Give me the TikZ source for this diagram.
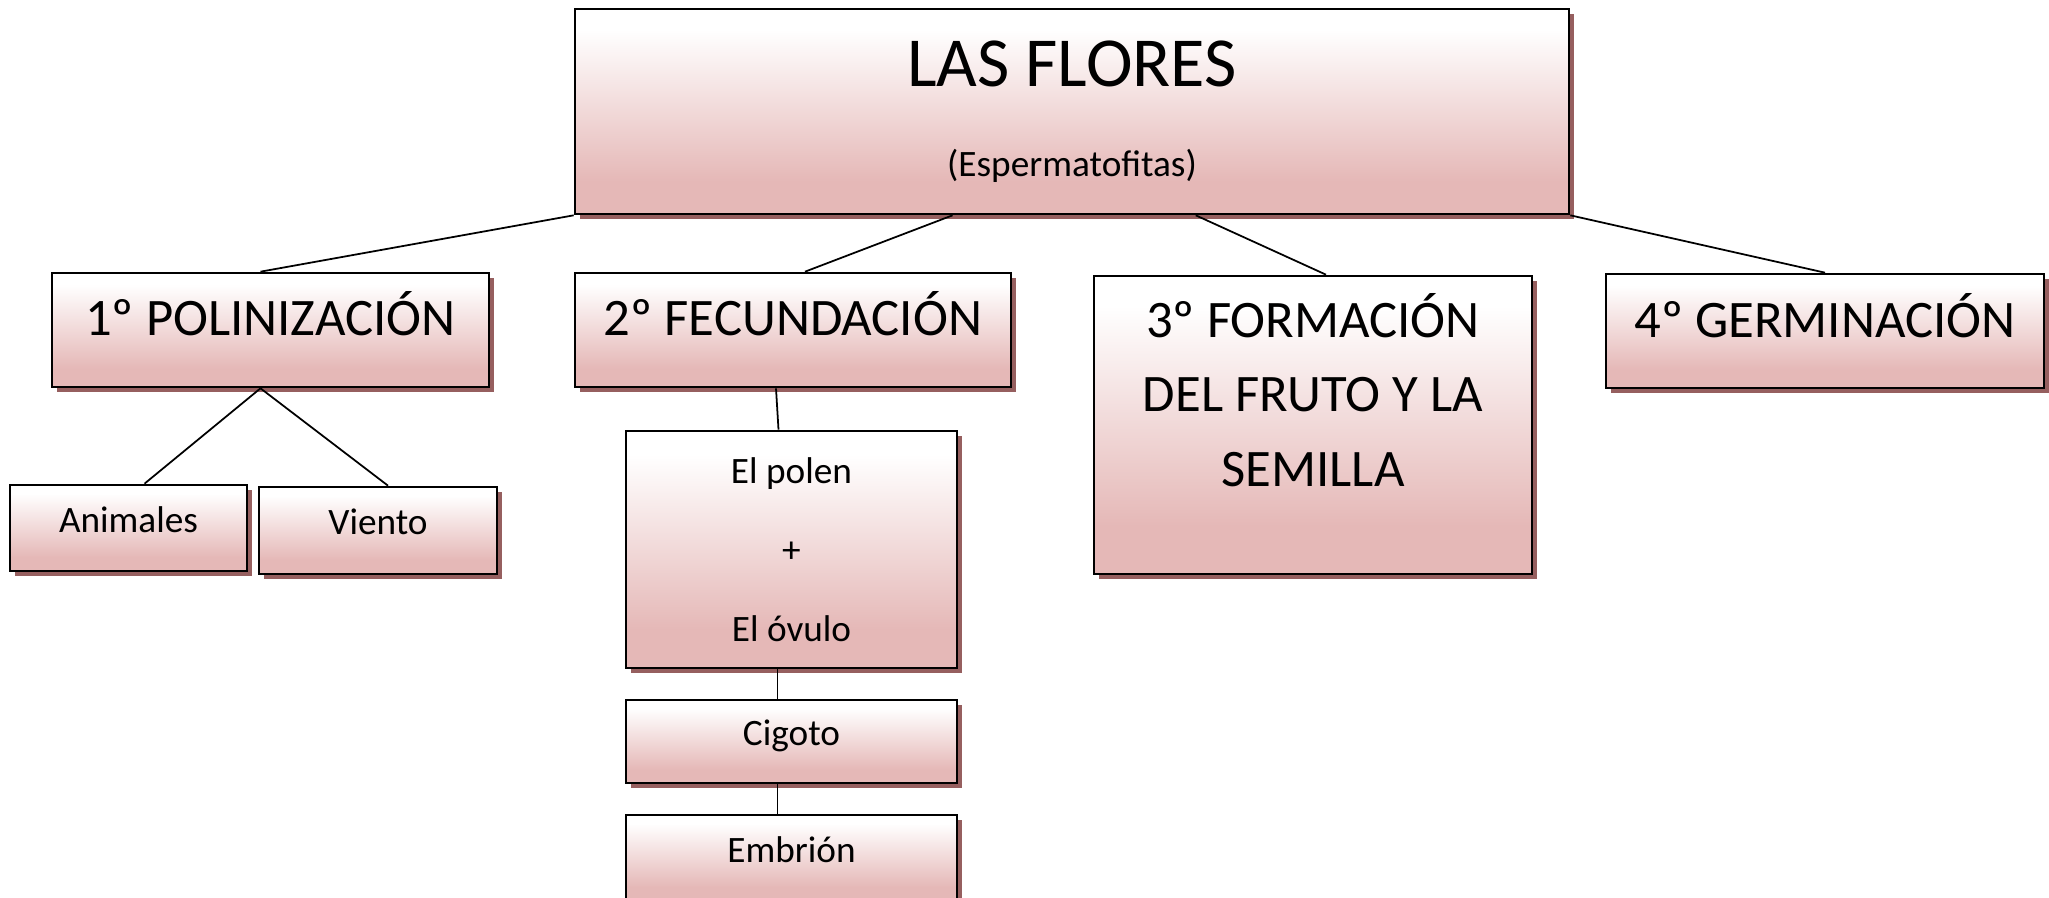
\documentclass[tikz,border=0pt]{standalone}
\usepackage{fontspec}
\setmainfont{Carlito}
\usetikzlibrary{shadows}

\definecolor{petalpink}{RGB}{229,184,183}
\definecolor{shadowred}{RGB}{150,95,95}
\pgfdeclareverticalshading{petal}{100bp}{color(0bp)=(petalpink); color(33bp)=(petalpink);
  color(70bp)=(white); color(100bp)=(white)}

\begin{document}
\begin{tikzpicture}[
  box/.style={rectangle, draw=black, line width=0.75pt, shade, shading=petal, inner sep=0pt,
              align=center, drop shadow={shadow xshift=1.5pt, shadow yshift=-1.5pt, fill=shadowred, opacity=1}},
  big/.style={box, font=\fontsize{15}{21.2}\selectfont},
  small/.style={box, font=\fontsize{10.6}{12.7}\selectfont},
  bigline/.style={big, text height=0.5cm, text depth=0.38cm},
  smallline/.style={small, text height=0.35cm, text depth=0.27cm},
  link/.style={line width=0.5pt}
]
\useasboundingbox (0,0) rectangle (20.49,-8.98);

% Title
\node[box, minimum width=9.94cm, minimum height=2.05cm, font=\fontsize{10.6}{12.7}\selectfont] (flores) at (10.72,-1.115) {
  {\fontsize{20}{24}\selectfont LAS FLORES}\\[12.9pt]
  (Espermatofitas)
};

% Stages
\node[bigline, minimum width=4.37cm, minimum height=1.14cm] (pol) at (2.705,-3.30) {1º POLINIZACIÓN};
\node[bigline, minimum width=4.36cm, minimum height=1.14cm] (fec) at (7.93,-3.30) {2º FECUNDACIÓN};
\node[big, minimum width=4.38cm, minimum height=2.98cm, text height=1.94cm, text depth=0.71cm] (fru) at (13.13,-4.25) {
  3º FORMACIÓN\\DEL FRUTO Y LA\\SEMILLA
};
\node[bigline, minimum width=4.38cm, minimum height=1.14cm] (ger) at (18.25,-3.31) {4º GERMINACIÓN};

% Polinizacion
\node[smallline, minimum width=2.37cm, minimum height=0.86cm] (ani) at (1.285,-5.28) {Animales};
\node[smallline, minimum width=2.38cm, minimum height=0.87cm] (vie) at (3.78,-5.305) {Viento};

% Fecundacion
\node[small, font=\fontsize{10.6}{22.5}\selectfont, minimum width=3.31cm, minimum height=2.37cm] (fus) at (7.915,-5.495) {
  El polen\\+\\El óvulo
};
\node[smallline, minimum width=3.31cm, minimum height=0.83cm] (cig) at (7.915,-7.415) {Cigoto};
\node[smallline, minimum width=3.31cm, minimum height=0.86cm] (emb) at (7.915,-8.58) {Embrión};

% Links
\draw[link] (flores.south west) -- ([xshift=-0.1cm]pol.north);
\draw[link] (flores.221) -- ([xshift=0.12cm]fec.north);
\draw[link] (flores.320) -- ([xshift=0.13cm]fru.north);
\draw[link] (flores.south east) -- (ger.north);
\draw[link] ([xshift=-0.1cm]pol.south) -- ([xshift=0.16cm]ani.north);
\draw[link] ([xshift=-0.1cm]pol.south) -- ([xshift=0.1cm]vie.north);
\draw[link] ([xshift=-0.17cm]fec.south) -- ([xshift=-0.13cm]fus.north);
\draw[link] ([xshift=-0.14cm]fus.south) -- ([xshift=-0.14cm]cig.north);
\draw[link] ([xshift=-0.14cm]cig.south) -- ([xshift=-0.14cm]emb.north);

\end{tikzpicture}
\end{document}
